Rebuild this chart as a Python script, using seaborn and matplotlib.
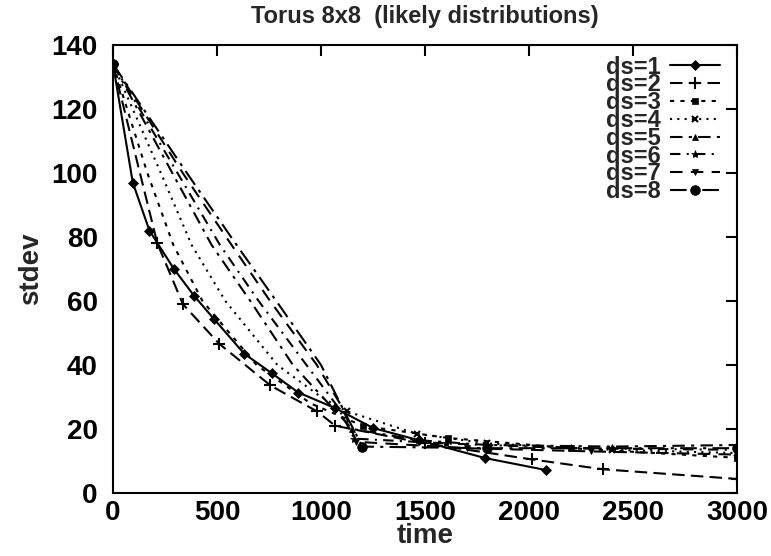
import matplotlib
matplotlib.use('Agg')
import matplotlib.pyplot as plt
import seaborn as sns
import pandas as pd

# stdev over time for torus 8x8, one series per ds value
ds1_x = [0, 95, 175, 293, 390, 485, 631, 764, 891, 1069, 1251, 1470, 1790, 2080]
ds1_y = [134, 97, 82, 70, 61.6, 54.4, 43.5, 37.4, 31.4, 26.5, 20.3, 16.5, 10.9, 7.2]

ds2_x = [0, 213, 336, 511, 757, 981, 1069, 1500, 2014, 2357, 3000]
ds2_y = [134, 78, 59, 46.6, 33.6, 25.5, 21, 15.5, 10.5, 7.4, 4.4]

ds3_x = [0, 165, 290, 430, 690, 950, 1200, 1611, 2200, 3000]
ds3_y = [134, 100, 77.5, 60, 40, 28, 21, 17.2, 14, 11]

ds4_x = [0, 230, 378, 540, 790, 1000, 1125, 1460, 1800, 2400, 3000]
ds4_y = [134, 100, 77.5, 60, 40, 30, 25.5, 18.5, 15.5, 13.5, 12.5]

ds5_x = [0, 285, 474, 660, 865, 1050, 1150, 1470, 1800, 2400, 3000]
ds5_y = [134, 100, 77.5, 60, 40, 27, 20, 16.5, 15, 14.5, 15]

ds6_x = [0, 310, 514, 700, 930, 1080, 1160, 1600, 2200, 3000]
ds6_y = [134, 100, 77.5, 60, 40, 27, 17, 15.5, 14, 13.5]

ds7_x = [0, 335, 570, 755, 980, 1100, 1170, 1700, 2300, 3000]
ds7_y = [134, 100, 77.5, 60, 40, 27, 16, 14, 13, 12]

ds8_x = [0, 355, 594, 785, 1000, 1100, 1199, 1798, 3000]
ds8_y = [134, 100, 77.5, 60, 40, 27, 14.5, 14, 14]

labels = ['ds=1', 'ds=2', 'ds=3', 'ds=4', 'ds=5', 'ds=6', 'ds=7', 'ds=8']
xs = [ds1_x, ds2_x, ds3_x, ds4_x, ds5_x, ds6_x, ds7_x, ds8_x]
ys = [ds1_y, ds2_y, ds3_y, ds4_y, ds5_y, ds6_y, ds7_y, ds8_y]

# gnuplot-ish line/point styles
dashes = [(), (6, 3), (2, 3), (1, 2.5), (6, 3, 1.5, 3), (5, 3, 1, 3), (6, 4), (8, 3, 1.5, 3)]
markers = ['D', '+', 's', 'x', '^', '*', 'v', 'o']
msizes = [5, 8, 4, 5, 5, 6, 5, 7]
# fan curves only show points at the start and past the knee
first_mark = [0, 0, 6, 6, 6, 6, 6, 6]

sns.set_theme(style='white')
plt.rcParams['font.family'] = ['Liberation Sans', 'DejaVu Sans']
plt.rcParams['font.weight'] = 'bold'

fig = plt.figure(figsize=(7.71, 5.56), dpi=100)
ax = fig.add_axes([0.1466, 0.1133, 0.8093, 0.8058])

for lab, x, y, d, m, ms, fm in zip(labels, xs, ys, dashes, markers, msizes, first_mark):
    df = pd.DataFrame({'time': x, 'stdev': y})
    every = [0] + list(range(fm, len(x))) if fm else None
    sns.lineplot(data=df, x='time', y='stdev', ax=ax, sort=False, estimator=None,
                 color='black', linewidth=1.5, marker=m, markersize=ms,
                 markeredgecolor='black', markerfacecolor='black',
                 markeredgewidth=1.5 if m in ('+', 'x') else 0.5,
                 markevery=every, label=lab)
    if d:
        ax.lines[-1].set_dashes(d)

ax.set_xlim(0, 3000)
ax.set_ylim(0, 140)
ax.set_xticks(range(0, 3001, 500))
ax.set_yticks(range(0, 141, 20))
ax.tick_params(direction='in', length=8, width=1.5, top=True, right=True,
               labelsize=20, colors='black')
ax.tick_params(axis='x', pad=5)
ax.tick_params(axis='y', pad=11)
for lbl in ax.get_xticklabels() + ax.get_yticklabels():
    lbl.set_fontweight('bold')
for s in ax.spines.values():
    s.set_linewidth(1.5)
    s.set_color('black')

ax.set_xlabel('time', fontsize=20, fontweight='bold', labelpad=-2)
ax.set_ylabel('stdev', fontsize=20, fontweight='bold', labelpad=5)
ax.set_title('Torus 8x8  (likely distributions)', fontsize=17, fontweight='bold', pad=16)

leg = ax.legend(loc='upper right', bbox_to_anchor=(0.995, 1.008), frameon=False,
                markerfirst=False, labelspacing=-0.22, handlelength=2.1,
                handletextpad=0.4, borderaxespad=0.2, prop={'weight': 'bold', 'size': 17})

fig.savefig('out.png', dpi=100)
